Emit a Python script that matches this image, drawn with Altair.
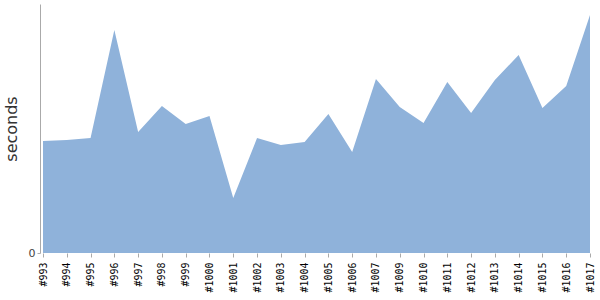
import altair as alt
import pandas as pd

builds = ["#993", "#994", "#995", "#996", "#997", "#998", "#999", "#1000", "#1001",
          "#1002", "#1003", "#1004", "#1005", "#1006", "#1007", "#1009", "#1010",
          "#1011", "#1012", "#1013", "#1014", "#1015", "#1016", "#1017"]
seconds = [112, 113, 115, 223, 121, 147, 129, 137, 55, 115, 108, 111, 139, 101,
           174, 146, 130, 171, 140, 173, 198, 145, 167, 238]

df = pd.DataFrame({"build": builds, "seconds": seconds})

chart = alt.Chart(df).mark_area(color="#8fb2da", opacity=1, interpolate="linear").encode(
    x=alt.X("build:O", sort=builds, title=None,
            scale=alt.Scale(type="point", padding=0),
            axis=alt.Axis(labelAngle=-90, labelFont="DejaVu Sans Mono", labelFontSize=10,
                          labelColor="#000", domain=False, tickColor="#aaa",
                          tickSize=4, labelPadding=5)),
    y=alt.Y("seconds:Q", title="seconds",
            scale=alt.Scale(domain=[0, 249], nice=False),
            axis=alt.Axis(values=[0], grid=False, offset=3, domainColor="#aaa",
                          tickColor="#aaa", tickSize=3, labelColor="#444",
                          labelFont="DejaVu Sans", labelFontSize=11,
                          titleFont="DejaVu Sans", titleFontSize=16,
                          titleFontWeight="normal", titleColor="#333", titlePadding=9)),
).properties(
    width=547, height=249,
    autosize=alt.AutoSizeParams(type="none"),
    padding={"left": 43, "top": 4, "right": 10, "bottom": 47},
).configure_view(stroke=None)

chart.save("out.html", embed_options={"renderer": "svg", "actions": False})
